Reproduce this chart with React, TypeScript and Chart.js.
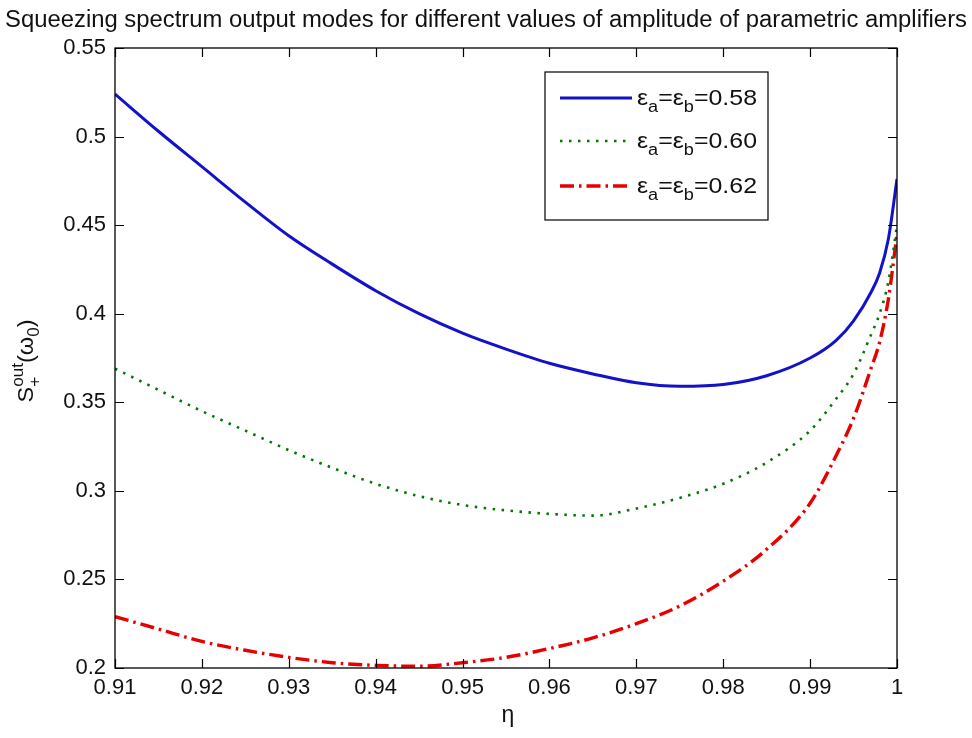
import React, { useEffect, useRef } from "react";
import { Chart, registerables } from "chart.js";

Chart.register(...registerables);

// Coupling efficiency η (x axis)
const etaValues = [
  0.91, 0.915, 0.92, 0.925, 0.93, 0.935, 0.94, 0.945, 0.95, 0.955, 0.96, 0.965,
  0.97, 0.975, 0.98, 0.985, 0.99, 0.993, 0.995, 0.997, 0.998, 0.999, 1.0,
];

// Squeezing spectrum S+^out(ω0) for ε_a = ε_b = 0.58
const spectrum058 = [
  0.524, 0.503, 0.483, 0.463, 0.444, 0.428, 0.413, 0.4, 0.389, 0.38, 0.372, 0.366,
  0.361, 0.359, 0.36, 0.365, 0.375, 0.385, 0.396, 0.412, 0.423, 0.442, 0.476,
];

// ε_a = ε_b = 0.60
const spectrum060 = [
  0.369, 0.357, 0.345, 0.334, 0.323, 0.313, 0.304, 0.297, 0.292, 0.289, 0.287, 0.286,
  0.29, 0.296, 0.304, 0.316, 0.334, 0.352, 0.366, 0.388, 0.4, 0.418, 0.45,
];

// ε_a = ε_b = 0.62
const spectrum062 = [
  0.229, 0.222, 0.215, 0.21, 0.206, 0.203, 0.2015, 0.201, 0.203, 0.206, 0.211, 0.217,
  0.225, 0.235, 0.249, 0.267, 0.293, 0.32, 0.341, 0.369, 0.384, 0.408, 0.445,
];

const xTicks = [0.91, 0.92, 0.93, 0.94, 0.95, 0.96, 0.97, 0.98, 0.99, 1.0];
const yTicks = [0.2, 0.25, 0.3, 0.35, 0.4, 0.45, 0.5, 0.55];

const legendValues = ["0.58", "0.60", "0.62"];
const titleText =
  "Squeezing spectrum output modes for different values of amplitude of parametric amplifiers";

const FONT = '"Liberation Sans", Arial, sans-serif';

const fmt = (v: number) => String(Number(v.toFixed(4)));

const seriesStyles = [
  { color: "rgb(18,18,200)", width: 3, dash: [] as number[] },
  { color: "rgb(0,120,0)", width: 2.6, dash: [2.5, 6.5] },
  { color: "rgb(232,0,0)", width: 3.4, dash: [14, 5, 2.5, 5] },
];

type Run = { t: string; f: string; dy: number; adv: boolean };

// draws a sequence of text runs (sub/superscripts) squeezed or stretched to a given width
function drawRuns(ctx: any, runs: Run[], x0: number, baseline: number, width: number, centered: boolean) {
  let total = 0;
  runs.forEach((r) => {
    ctx.font = r.f;
    if (r.adv) total += ctx.measureText(r.t).width;
  });
  const k = width / total;
  ctx.save();
  ctx.translate(centered ? x0 - width / 2 : x0, baseline);
  ctx.scale(k, 1);
  ctx.textAlign = "left";
  ctx.textBaseline = "alphabetic";
  let cx = 0;
  runs.forEach((r) => {
    ctx.font = r.f;
    ctx.fillText(r.t, cx, r.dy);
    if (r.adv) cx += ctx.measureText(r.t).width;
  });
  ctx.restore();
}

const frameAndText = {
  id: "frameAndText",
  afterDraw(chart: any) {
    const { ctx, chartArea, scales } = chart;
    const { left, right, top, bottom } = chartArea;
    const sx = scales.x;
    const sy = scales.y;
    ctx.save();

    // axes box
    ctx.strokeStyle = "#000";
    ctx.lineWidth = 1.3;
    ctx.strokeRect(left, top, right - left, bottom - top);

    // inward tick marks on all four sides
    const tl = 9;
    ctx.beginPath();
    xTicks.forEach((t) => {
      const px = Math.round(sx.getPixelForValue(t)) + 0.5;
      ctx.moveTo(px, bottom);
      ctx.lineTo(px, bottom - tl);
      ctx.moveTo(px, top);
      ctx.lineTo(px, top + tl);
    });
    yTicks.forEach((t) => {
      const py = Math.round(sy.getPixelForValue(t)) + 0.5;
      ctx.moveTo(left, py);
      ctx.lineTo(left + tl, py);
      ctx.moveTo(right, py);
      ctx.lineTo(right - tl, py);
    });
    ctx.lineWidth = 1.2;
    ctx.stroke();

    ctx.fillStyle = "#111";

    // title across the full figure width
    ctx.font = `23px ${FONT}`;
    ctx.textBaseline = "middle";
    ctx.textAlign = "center";
    const tw = ctx.measureText(titleText).width;
    ctx.save();
    ctx.translate(486, 21);
    ctx.scale(962 / tw, 1);
    ctx.fillText(titleText, 0, 0);
    ctx.restore();

    // x axis label
    ctx.font = `23px ${FONT}`;
    ctx.textAlign = "center";
    ctx.fillText("η", (left + right) / 2 + 2, 716);

    const big = `22px ${FONT}`;
    const small = `16px ${FONT}`;

    // y axis label: S_+^{out}(ω_0)
    ctx.save();
    ctx.translate(33, (top + bottom) / 2 + 3);
    ctx.rotate(-Math.PI / 2);
    drawRuns(
      ctx,
      [
        { t: "S", f: big, dy: 0, adv: true },
        { t: "+", f: small, dy: 7, adv: false },
        { t: "out", f: small, dy: -10, adv: true },
        { t: "(ω", f: big, dy: 0, adv: true },
        { t: "0", f: small, dy: 6, adv: true },
        { t: ")", f: big, dy: 0, adv: true },
      ],
      0,
      0,
      83,
      true
    );
    ctx.restore();

    // legend box
    const lx = right - 352;
    const ly = top + 24;
    const lw = 223;
    const lh = 148;
    ctx.fillStyle = "#fff";
    ctx.fillRect(lx, ly, lw, lh);
    ctx.strokeStyle = "#000";
    ctx.lineWidth = 1.2;
    ctx.strokeRect(lx, ly, lw, lh);

    const rowY = [ly + 26, ly + 69, ly + 114];
    legendValues.forEach((val, i) => {
      const st = seriesStyles[i];
      const y = rowY[i];
      ctx.save();
      ctx.strokeStyle = st.color;
      ctx.lineWidth = st.width;
      ctx.setLineDash(st.dash);
      ctx.beginPath();
      ctx.moveTo(lx + 15, y);
      ctx.lineTo(lx + 87, y);
      ctx.stroke();
      ctx.restore();

      ctx.fillStyle = "#111";
      drawRuns(
        ctx,
        [
          { t: "ε", f: big, dy: 0, adv: true },
          { t: "a", f: small, dy: 7, adv: true },
          { t: "=ε", f: big, dy: 0, adv: true },
          { t: "b", f: small, dy: 7, adv: true },
          { t: "=" + val, f: big, dy: 0, adv: true },
        ],
        lx + 92,
        y + 7,
        120,
        false
      );
    });

    ctx.restore();
  },
};

export default function App() {
  const canvasRef = useRef<HTMLCanvasElement | null>(null);

  useEffect(() => {
    const canvas = canvasRef.current;
    if (!canvas) return;
    const series = [spectrum058, spectrum060, spectrum062];
    const chart = new Chart(canvas, {
      type: "line",
      data: {
        datasets: series.map((vals, i) => ({
          label: `ε=${legendValues[i]}`,
          data: etaValues.map((x, j) => ({ x, y: vals[j] })),
          borderColor: seriesStyles[i].color,
          borderWidth: seriesStyles[i].width,
          borderDash: seriesStyles[i].dash,
          pointRadius: 0,
          fill: false,
          cubicInterpolationMode: "monotone" as const,
        })),
      },
      options: {
        responsive: false,
        animation: false,
        layout: { padding: { top: 48, right: 75, left: 0, bottom: 0 } },
        plugins: {
          legend: { display: false },
          title: { display: false },
          tooltip: { enabled: false },
        },
        scales: {
          x: {
            type: "linear",
            min: 0.91,
            max: 1,
            grid: { display: false, drawTicks: false },
            border: { display: false },
            afterBuildTicks: (s: any) => {
              s.ticks = xTicks.map((v) => ({ value: v }));
            },
            afterFit: (s: any) => {
              s.height = 70;
            },
            ticks: {
              autoSkip: false,
              maxRotation: 0,
              padding: 7,
              color: "#111",
              font: { family: FONT, size: 22 },
              callback: (v: any) => fmt(Number(v)),
            },
          },
          y: {
            type: "linear",
            min: 0.2,
            max: 0.55,
            grid: { display: false, drawTicks: false },
            border: { display: false },
            afterBuildTicks: (s: any) => {
              s.ticks = yTicks.map((v) => ({ value: v }));
            },
            afterFit: (s: any) => {
              s.width = 115;
            },
            ticks: {
              autoSkip: false,
              padding: 9,
              color: "#111",
              font: { family: FONT, size: 22 },
              callback: (v: any) => fmt(Number(v)),
            },
          },
        },
      },
      plugins: [frameAndText],
    });
    return () => chart.destroy();
  }, []);

  return (
    <div style={{ position: "absolute", left: 0, top: 0, width: 972, height: 738, background: "#fff" }}>
      <canvas ref={canvasRef} width={972} height={738} style={{ display: "block" }} />
    </div>
  );
}
